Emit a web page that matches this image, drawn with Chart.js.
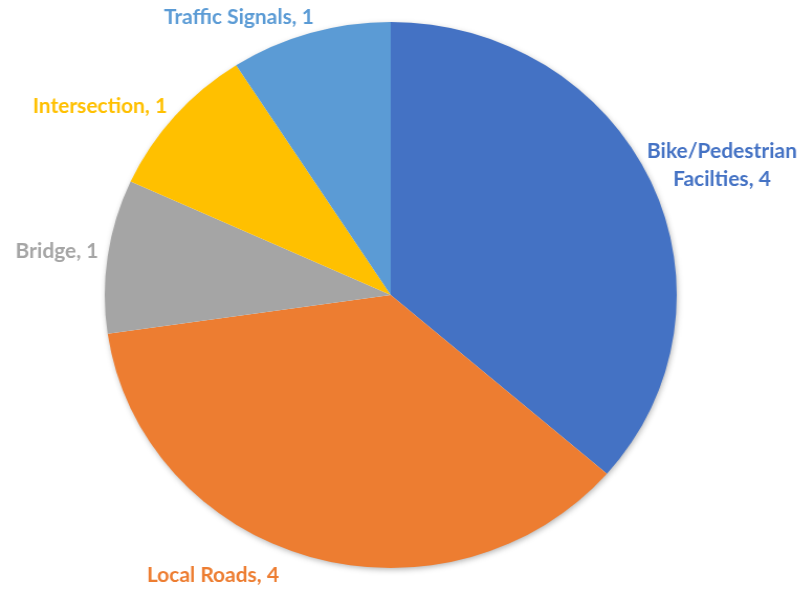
<!DOCTYPE html>
<html>
<head>
<meta charset="utf-8">
<script src="https://cdn.jsdelivr.net/npm/chart.js@4/dist/chart.umd.min.js"></script>
<style>
  html, body { margin: 0; padding: 0; background: #fff; overflow: hidden; }
  #wrap { width: 767px; height: 589px; transform: scaleX(1.0476); transform-origin: 0 0; }
</style>
</head>
<body>
<div id="wrap"><canvas id="pieChart" width="767" height="589"></canvas></div>
<script>
// Data
const categories = ['Bike/Pedestrian Facilties', 'Local Roads', 'Bridge', 'Intersection', 'Traffic Signals'];
const counts = [4, 4, 1, 1, 1];
const sliceColors = ['#4472C4', '#ED7D31', '#A5A5A5', '#FFC000', '#5B9BD5'];

// Label text lines (Bike label wraps on two lines)
const labelLines = [
    ['Bike/Pedestrian', 'Facilties, 4'],
    ['Local Roads, 4'],
    ['Bridge, 1'],
    ['Intersection, 1'],
    ['Traffic Signals, 1']
];
// Label centre, relative to the pie centre, in pie radii
const labelOffsets = [
    [1.158, -0.473],
    [-0.622, 1.026],
    [-1.167, -0.158],
    [-1.017, -0.689],
    [-0.531, -1.018]
];

// Soft shadow under the whole pie, drawn before the slices
const shadowPlugin = {
    id: 'pieShadow',
    beforeDatasetsDraw(chart) {
        const arc = chart.getDatasetMeta(0).data[0];
        if (!arc) return;
        const ctx = chart.ctx;
        ctx.save();
        ctx.shadowColor = 'rgba(0,0,0,0.35)';
        ctx.shadowBlur = 6;
        ctx.shadowOffsetX = 1;
        ctx.shadowOffsetY = 2;
        ctx.fillStyle = '#ffffff';
        ctx.beginPath();
        ctx.arc(arc.x, arc.y, arc.outerRadius - 1, 0, Math.PI * 2);
        ctx.fill();
        ctx.restore();
    }
};

// Outside labels "Name, value" in the slice colour
const labelPlugin = {
    id: 'outsideLabels',
    afterDatasetsDraw(chart) {
        const meta = chart.getDatasetMeta(0);
        const ctx = chart.ctx;
        ctx.save();
        ctx.font = 'bold 20px Lato';
        ctx.textAlign = 'center';
        ctx.textBaseline = 'middle';
        meta.data.forEach((arc, i) => {
            const r = arc.outerRadius;
            const cx = arc.x + labelOffsets[i][0] * r;
            const cy = arc.y + labelOffsets[i][1] * r;
            const lines = labelLines[i];
            const lineH = 28;
            ctx.fillStyle = sliceColors[i];
            lines.forEach((txt, k) => {
                ctx.fillText(txt, cx, cy + (k - (lines.length - 1) / 2) * lineH);
            });
        });
        ctx.restore();
    }
};

const ctx = document.getElementById('pieChart').getContext('2d');
new Chart(ctx, {
    type: 'pie',
    data: {
        labels: categories,
        datasets: [{
            data: counts,
            backgroundColor: sliceColors,
            borderWidth: 0
        }]
    },
    options: {
        responsive: false,
        animation: false,
        layout: { padding: { top: 22, bottom: 21, left: 100, right: 121 } },
        plugins: {
            legend: { display: false },
            tooltip: { enabled: false }
        }
    },
    plugins: [shadowPlugin, labelPlugin]
});
</script>
</body>
</html>
